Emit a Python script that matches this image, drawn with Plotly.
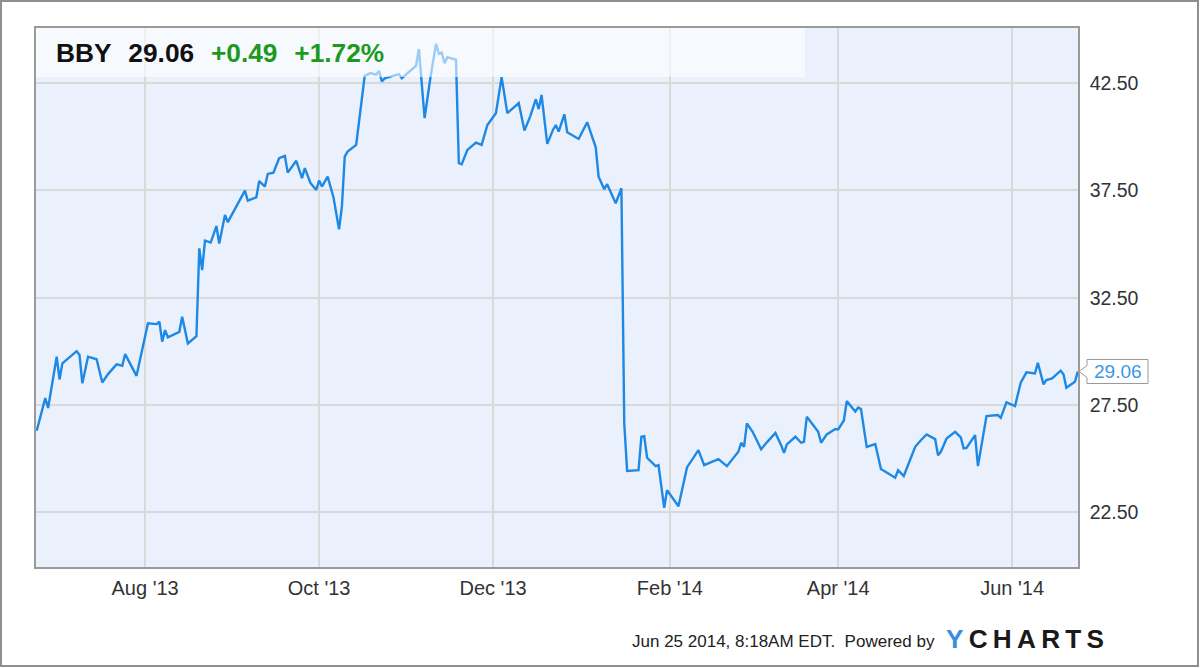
import plotly.graph_objects as go

# ---- data ----
dates = [
    "2013-06-24", "2013-06-27", "2013-06-28", "2013-07-01", "2013-07-02", "2013-07-03",
    "2013-07-08", "2013-07-09", "2013-07-10", "2013-07-12", "2013-07-15", "2013-07-17",
    "2013-07-19", "2013-07-22", "2013-07-24", "2013-07-25", "2013-07-29",
    "2013-08-02", "2013-08-05", "2013-08-06", "2013-08-07", "2013-08-08", "2013-08-09",
    "2013-08-13", "2013-08-14", "2013-08-16", "2013-08-19", "2013-08-20", "2013-08-21",
    "2013-08-22", "2013-08-24", "2013-08-25", "2013-08-26", "2013-08-27", "2013-08-29",
    "2013-08-30",
    "2013-09-02", "2013-09-05", "2013-09-06", "2013-09-09", "2013-09-10", "2013-09-12",
    "2013-09-13", "2013-09-15", "2013-09-17", "2013-09-19", "2013-09-20", "2013-09-23",
    "2013-09-25", "2013-09-26", "2013-09-28", "2013-09-30",
    "2013-10-01", "2013-10-02", "2013-10-04", "2013-10-06", "2013-10-08", "2013-10-09",
    "2013-10-10", "2013-10-11", "2013-10-14", "2013-10-17", "2013-10-19", "2013-10-21",
    "2013-10-22", "2013-10-23", "2013-10-24", "2013-10-29", "2013-10-30",
    "2013-11-04", "2013-11-05", "2013-11-07", "2013-11-09", "2013-11-11", "2013-11-12",
    "2013-11-13", "2013-11-14", "2013-11-15", "2013-11-18", "2013-11-19", "2013-11-20",
    "2013-11-22", "2013-11-25", "2013-11-27", "2013-11-29",
    "2013-12-02", "2013-12-04", "2013-12-06", "2013-12-10", "2013-12-12", "2013-12-14",
    "2013-12-16", "2013-12-17", "2013-12-18", "2013-12-20", "2013-12-22", "2013-12-23",
    "2013-12-24", "2013-12-26", "2013-12-27", "2013-12-31",
    "2014-01-03", "2014-01-06", "2014-01-07", "2014-01-09", "2014-01-10", "2014-01-13",
    "2014-01-15", "2014-01-16", "2014-01-17", "2014-01-21", "2014-01-22", "2014-01-23",
    "2014-01-24", "2014-01-27", "2014-01-28", "2014-01-30", "2014-01-31",
    "2014-02-04", "2014-02-07", "2014-02-11", "2014-02-13", "2014-02-18", "2014-02-21",
    "2014-02-25", "2014-02-26", "2014-02-27", "2014-02-28",
    "2014-03-02", "2014-03-05", "2014-03-07", "2014-03-10", "2014-03-12", "2014-03-13",
    "2014-03-14", "2014-03-17", "2014-03-19", "2014-03-20", "2014-03-21", "2014-03-25",
    "2014-03-26", "2014-03-28", "2014-03-31",
    "2014-04-01", "2014-04-03", "2014-04-04", "2014-04-07", "2014-04-08", "2014-04-09",
    "2014-04-11", "2014-04-14", "2014-04-16", "2014-04-21", "2014-04-22", "2014-04-24",
    "2014-04-28", "2014-04-30",
    "2014-05-02", "2014-05-05", "2014-05-06", "2014-05-07", "2014-05-09", "2014-05-12",
    "2014-05-14", "2014-05-15", "2014-05-16", "2014-05-19", "2014-05-20", "2014-05-23",
    "2014-05-27", "2014-05-28", "2014-05-30",
    "2014-06-02", "2014-06-04", "2014-06-06", "2014-06-09", "2014-06-10", "2014-06-12",
    "2014-06-13", "2014-06-15", "2014-06-18", "2014-06-19", "2014-06-20", "2014-06-23",
    "2014-06-24",
]
prices = [
    26.30, 27.82, 27.36, 29.75, 28.69, 29.44,
    30.01, 29.83, 28.51, 29.75, 29.63, 28.55,
    28.94, 29.39, 29.33, 29.87, 28.86,
    31.31, 31.27, 31.38, 30.45, 30.99, 30.65,
    30.91, 31.61, 30.37, 30.71, 34.80, 33.79,
    35.16, 35.07, 35.43, 35.84, 35.02, 36.36,
    36.02,
    36.74, 37.49, 37.02, 37.18, 37.94, 37.68,
    38.27, 38.33, 39.00, 39.11, 38.33, 38.88,
    38.07, 38.54, 37.84, 37.52,
    37.96, 37.68, 38.14, 37.21, 35.69, 36.74,
    39.08, 39.31, 39.62, 42.84, 42.97, 42.90,
    43.07, 42.58, 42.72, 42.92, 42.73,
    43.31, 44.09, 40.87, 42.73, 44.33, 43.87,
    43.93, 43.43, 43.71, 43.59, 38.77, 38.72,
    39.39, 39.73, 39.62, 40.55,
    41.10, 42.78, 41.10, 41.57, 40.29, 40.94,
    41.75, 41.29, 41.95, 39.67, 40.32, 40.55,
    40.24, 41.05, 40.21, 39.90,
    40.68, 39.51, 38.14, 37.56, 37.79, 36.90,
    37.60, 26.64, 24.43, 24.46, 26.02, 26.05,
    25.04, 24.65, 24.70, 22.71, 23.53,
    22.78, 24.59, 25.40, 24.70, 24.98, 24.65,
    25.32, 25.74, 25.55, 26.64,
    26.25, 25.44, 25.76, 26.20, 25.63, 25.27,
    25.66, 26.02, 25.74, 25.78, 26.95, 26.25,
    25.74, 26.13, 26.38,
    26.36, 26.78, 27.68, 27.20, 27.38, 27.31,
    25.55, 25.68, 24.52, 24.11, 24.46, 24.19,
    25.55, 25.86,
    26.13, 25.91, 25.16, 25.32, 25.94, 26.25,
    25.99, 25.48, 25.50, 26.10, 24.65, 26.98,
    27.03, 26.90, 27.62,
    27.45, 28.54, 29.02, 28.97, 29.47, 28.46,
    28.66, 28.74, 29.10, 28.93, 28.30, 28.58,
    29.06,
]

ticker = "BBY"
last_price = 29.06
change = "+0.49"
change_pct = "+1.72%"

x_tick_vals = ["2013-08-01", "2013-10-01", "2013-12-01", "2014-02-01", "2014-04-01", "2014-06-01"]
x_tick_text = ["Aug '13", "Oct '13", "Dec '13", "Feb '14", "Apr '14", "Jun '14"]
y_tick_vals = [22.5, 27.5, 32.5, 37.5, 42.5]
y_tick_text = ["22.50", "27.50", "32.50", "37.50", "42.50"]

footer_text = "Jun 25 2014, 8:18AM EDT.\u00a0\u00a0Powered by"

# ---- figure ----
W, H = 1200, 668
ML, MR, MT, MB = 36, 122, 28, 101
PW, PH = W - ML - MR, H - MT - MB

LINE = "#1e88e5"
FONT = "Liberation Sans, Arial, sans-serif"
YMIN, YMAX = 19.95, 45.07

fig = go.Figure()
fig.add_trace(go.Scatter(
    x=dates, y=prices, mode="lines",
    line=dict(color=LINE, width=2.4),
    hoverinfo="x+y", showlegend=False,
))

def px_x(p):
    return (p - ML) / PW

def px_y(p):
    return (H - MB - p) / PH

shapes = []
# light header band over the top of the plot
shapes.append(dict(type="rect", xref="paper", yref="paper",
                   x0=0, x1=px_x(805), y0=px_y(77), y1=1,
                   fillcolor="rgba(255,255,255,0.57)", line=dict(width=0), layer="above"))
# outer frame of the whole picture
shapes.append(dict(type="rect", xref="paper", yref="paper",
                   x0=px_x(1), x1=px_x(W - 2), y0=px_y(H - 2), y1=px_y(1),
                   line=dict(color="#8f8f8f", width=2), fillcolor="rgba(0,0,0,0)", layer="above"))
# pointer box for the last value
per = PH / (YMAX - YMIN)  # px per unit
tip = last_price
bx0, bx1 = px_x(1087), px_x(1148)
top, bot = tip + 12 / per, tip - 12 / per
n1, n2 = tip + 6 / per, tip - 6 / per
path = (f"M {px_x(1079)},{tip} L {bx0},{n1} L {bx0},{top} L {bx1},{top} "
        f"L {bx1},{bot} L {bx0},{bot} L {bx0},{n2} Z")
shapes.append(dict(type="path", xref="paper", yref="y", path=path,
                   fillcolor="white", line=dict(color="#9a9a9a", width=1), layer="above"))

annotations = [
    dict(xref="paper", yref="paper", x=px_x(54), y=px_y(53), xanchor="left", yanchor="middle",
         showarrow=False,
         text=(f"<b>{ticker}\u00a0\u00a0\u200a{last_price:.2f}\u00a0\u00a0\u200a"
               f"<span style='color:#1c9a1c'>{change}\u00a0\u00a0\u200a{change_pct}</span></b>"),
         font=dict(family=FONT, size=26.3, color="#111111")),
    dict(xref="paper", yref="y", x=px_x(1117.5), y=last_price, xanchor="center", yanchor="middle",
         showarrow=False, text=f"{last_price:.2f}",
         font=dict(family=FONT, size=19, color="#3a96e8")),
    dict(xref="paper", yref="paper", x=px_x(937), y=px_y(641), xanchor="right", yanchor="middle",
         showarrow=False, text=footer_text,
         font=dict(family=FONT, size=17, color="#222222")),
    dict(xref="paper", yref="paper", x=px_x(944), y=px_y(639), xanchor="left", yanchor="middle",
         showarrow=False,
         text=("<b><span style='color:#3b8de0'>Y</span>\u2009C\u2009H\u2009A\u2009R\u2009T\u2009S</b>"),
         font=dict(family=FONT, size=26.2, color="#1a1a1a")),
]

fig.update_layout(
    width=W, height=H,
    margin=dict(l=ML, r=MR, t=MT, b=MB, pad=0),
    paper_bgcolor="white",
    plot_bgcolor="#eaf1fc",
    shapes=shapes,
    annotations=annotations,
    showlegend=False,
    font=dict(family=FONT, color="#333333"),
)
fig.update_xaxes(
    type="date",
    range=["2013-06-23 18:00", "2014-06-24 02:00"],
    tickmode="array", tickvals=x_tick_vals, ticktext=x_tick_text,
    showgrid=True, gridcolor="#d9d9d9", gridwidth=1.5,
    showline=True, linecolor="#9a9a9a", linewidth=1.5, mirror=True,
    ticks="", tickfont=dict(family=FONT, size=20, color="#333333"),
    zeroline=False, ticklabelstandoff=2,
)
fig.update_yaxes(
    side="right",
    range=[YMIN, YMAX],
    tickmode="array", tickvals=y_tick_vals, ticktext=y_tick_text,
    showgrid=True, gridcolor="#d9d9d9", gridwidth=1.5,
    showline=True, linecolor="#9a9a9a", linewidth=1.5, mirror=True,
    ticks="", tickfont=dict(family=FONT, size=19.5, color="#333333"),
    zeroline=False, ticklabelstandoff=6,
)

fig.write_html(
    "out.html",
    config={"displayModeBar": False},
    post_script="document.body.style.margin='0';document.body.style.overflow='hidden';",
)
